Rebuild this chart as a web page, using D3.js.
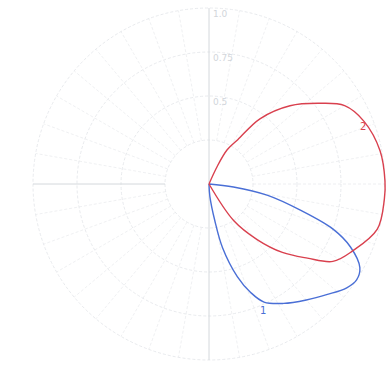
<!DOCTYPE html>
<html>
<head>
<meta charset="utf-8">
<script src="https://cdn.jsdelivr.net/npm/d3@7"></script>
<style>
  body { margin: 0; background: #fff; }
  svg { display: block; font-family: "DejaVu Sans", sans-serif; }
</style>
</head>
<body>
<svg id="chart"></svg>
<script>
// Polar pattern: two lobes, angle in degrees clockwise from north, r normalised 0..1

const W = 390, H = 365;
const CX = 209, CY = 184, R = 176;

const ringValues = [0.25, 0.5, 0.75, 1.0];
const ringLabels = ['', '0.5', '0.75', '1.0'];
const spokeAngles = d3.range(0, 360, 10);

// series 1 (blue)
const angles1 = [95, 97, 101, 106, 110, 114, 119, 123, 127, 133, 140, 148, 155, 159, 163, 168, 171, 176, 178];
const values1 = [0, 0.14, 0.34, 0.54, 0.75, 0.88, 0.98, 1.0, 0.98, 0.92, 0.86, 0.80, 0.74, 0.66, 0.55, 0.37, 0.21, 0.07, 0];

// series 2 (red)
const angles2 = [20, 25, 28, 33, 38, 46, 54, 60, 68, 79, 89, 95, 105, 115, 122, 127, 133, 139, 146, 152];
const values2 = [0, 0.11, 0.22, 0.30, 0.47, 0.64, 0.78, 0.89, 0.95, 0.99, 1.0, 1.0, 0.99, 0.90, 0.83, 0.70, 0.57, 0.42, 0.25, 0];

const seriesNames = ['1', '2'];
const seriesColors = ['#4a6fd6', '#d9404e'];

const svg = d3.select('#chart').attr('width', W).attr('height', H);
const g = svg.append('g').attr('transform', `translate(${CX},${CY})`);

const rScale = d3.scaleLinear().domain([0, 1]).range([0, R]);
const toRad = d => d * Math.PI / 180;

// grid rings
g.selectAll('circle.ring')
  .data(ringValues)
  .enter().append('circle')
  .attr('class', 'ring')
  .attr('r', d => rScale(d))
  .attr('fill', 'none')
  .attr('stroke', '#e2e5e9')
  .attr('stroke-width', 0.8)
  .attr('stroke-dasharray', '3,2');

// spokes from inner ring outward
g.selectAll('line.spoke')
  .data(spokeAngles.filter(a => a % 90 !== 0))
  .enter().append('line')
  .attr('class', 'spoke')
  .attr('x1', d => rScale(ringValues[0]) * Math.sin(toRad(d)))
  .attr('y1', d => -rScale(ringValues[0]) * Math.cos(toRad(d)))
  .attr('x2', d => R * Math.sin(toRad(d)))
  .attr('y2', d => -R * Math.cos(toRad(d)))
  .attr('stroke', '#e8eaed')
  .attr('stroke-width', 0.7)
  .attr('stroke-dasharray', '3,2');

// main axes
g.append('line').attr('x1', 0).attr('y1', -R).attr('x2', 0).attr('y2', R)
  .attr('stroke', '#d4d8dc').attr('stroke-width', 1);
g.append('line').attr('x1', -R).attr('y1', 0).attr('x2', -rScale(ringValues[0])).attr('y2', 0)
  .attr('stroke', '#d4d8dc').attr('stroke-width', 1);
g.append('line').attr('x1', rScale(ringValues[0])).attr('y1', 0).attr('x2', R).attr('y2', 0)
  .attr('stroke', '#e8eaed').attr('stroke-width', 0.8).attr('stroke-dasharray', '3,2');

// ring labels along the north axis
g.selectAll('text.ring-label')
  .data(ringValues.map((v, i) => ({ v, label: ringLabels[i] })).filter(d => d.label))
  .enter().append('text')
  .attr('class', 'ring-label')
  .attr('x', 4)
  .attr('y', d => -rScale(d.v) + 9)
  .attr('font-size', 9)
  .attr('fill', '#d2d6db')
  .text(d => d.label);

const line = d3.lineRadial()
  .angle(d => toRad(d.a))
  .radius(d => rScale(d.r))
  .curve(d3.curveCatmullRom.alpha(0.5));

const series = [
  angles1.map((a, i) => ({ a, r: values1[i] })),
  angles2.map((a, i) => ({ a, r: values2[i] }))
];

g.selectAll('path.lobe')
  .data(series)
  .enter().append('path')
  .attr('class', 'lobe')
  .attr('d', d => line(d))
  .attr('fill', 'none')
  .attr('stroke', (d, i) => seriesColors[i])
  .attr('stroke-width', 1.4);

// series labels next to curves
const labelPos = [{ a: 155, r: 0.74, dx: -4, dy: 12 }, { a: 68, r: 0.95, dx: -4, dy: 9 }];
g.selectAll('text.series-label')
  .data(labelPos)
  .enter().append('text')
  .attr('class', 'series-label')
  .attr('x', d => rScale(d.r) * Math.sin(toRad(d.a)) + d.dx)
  .attr('y', d => -rScale(d.r) * Math.cos(toRad(d.a)) + d.dy)
  .attr('font-size', 10)
  .attr('fill', (d, i) => seriesColors[i])
  .text((d, i) => seriesNames[i]);
</script>
</body>
</html>
